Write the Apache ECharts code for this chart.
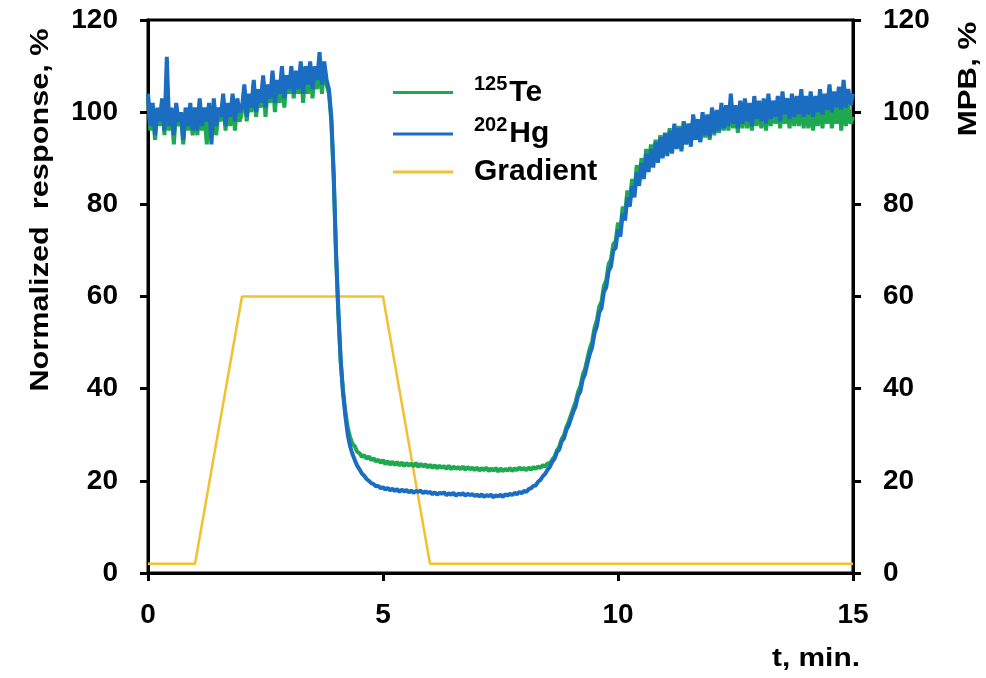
<!DOCTYPE html>
<html>
<head>
<meta charset="utf-8">
<script src="https://cdn.jsdelivr.net/npm/echarts@6/dist/echarts.min.js"></script>
<style>
  html, body { margin: 0; padding: 0; background: #fff; }
  #main { width: 986px; height: 678px; }
</style>
</head>
<body>
<div id="main"></div>
<script>
// sample spacing of the detector traces, min
var T_STEP = 0.05;

// 125Te, one row per minute (t = 0 ... 15)
var teValues = [
  103,96,101,94,100,97,102,95,104,96,100,93,101,97,99,93,100,96,101,95,
  100,95,102,96,100,93,101,97,102,95,100,98,103,96,101,97,103,96,102,98,
  100,105,98,103,100,106,99,104,101,107,99,105,102,108,100,106,102,109,101,107,
  104,109,103,108,104,110,102,109,104,110,103,109,105,111,104,110,106,104,98,86,
  69,56,46,39.5,35,31.5,29.5,28.0,27.5,26.3,26.0,25.2,25.6,24.8,25.3,24.5,24.9,24.2,24.6,23.9,
  24.5,23.6,24.3,23.5,24.2,23.4,24.1,23.3,24.0,23.2,23.9,23.3,23.8,23.1,23.9,23.0,23.7,23.1,23.6,22.9,
  23.5,22.8,23.4,22.7,23.3,22.8,23.2,22.6,23.3,22.5,23.1,22.6,23.0,22.5,23.1,22.4,23.0,22.5,22.9,22.3,
  22.9,22.2,22.8,22.3,22.9,22.1,22.7,22.2,22.8,22.0,22.7,22.1,22.6,22.2,22.8,22.1,22.7,22.3,22.9,22.4,
  22.8,22.3,22.9,22.4,23.0,22.6,23.1,22.8,23.4,23.1,23.8,23.7,24.6,25.2,26.6,27.4,29.0,29.9,31.6,32.8,
  34.3,35.8,37.2,39.3,40.5,43.0,44.3,46.6,48.8,50.2,53.2,54.8,57.8,58.9,62.3,63.5,67.0,68.0,71.4,72.0,
  76.0,74.5,79.5,78.0,83.0,80.5,85.5,83.0,88.5,85.0,90.0,86.5,92.0,88.0,93.0,89.0,94.0,89.5,95.0,90.5,
  95.5,91.5,96.5,91.5,97.0,92.5,97.0,92.0,98.0,93.5,97.5,93.0,99.0,94.0,98.0,93.5,99.5,94.5,99.0,94.0,
  100.0,95.0,100.0,95.5,101.0,96.0,100.5,96.0,102.5,96.5,100.5,95.5,101.5,96.5,102.0,96.5,101.0,96.0,102.0,97.0,
  101.0,96.5,101.5,96.0,102.5,97.0,101.0,97.5,102.0,96.5,102.5,97.5,101.5,96.5,102.0,97.0,101.5,97.0,102.5,96.5,
  101.5,96.5,102.0,96.0,101.0,97.0,102.5,96.5,101.5,97.5,102.5,96.5,101.0,97.5,102.5,96.0,103.0,97.0,101.5,97.5,
  99.0
];

// 202Hg, one row per minute (t = 0 ... 15)
var hgValues = [
  104,97,102,95,101,98,103,96,112,97,101,95,102,98,100,94,101,97,102,96,
  101,96,103,97,101,98,102,93,103,97,101,99,104,97,102,99,104,98,103,100,
  101,106,99,104,101,107,100,105,102,108,101,106,103,109,102,107,104,110,103,108,
  105,110,104,109,105,111,104,110,106,111,105,110,107,113,106,111,107,105,99,87,
  70,57,46,39,34,30,27.5,25.8,24.5,23.3,22.5,21.6,21.1,20.4,20.0,19.5,19.3,18.8,18.9,18.4,
  18.6,18.1,18.5,17.9,18.3,17.8,18.2,17.6,18.1,17.7,18.0,17.5,17.9,17.4,17.8,17.6,17.9,17.3,17.7,17.4,
  17.6,17.1,17.5,17.0,17.4,17.2,17.5,16.9,17.3,17.0,17.4,16.8,17.2,17.0,17.3,16.8,17.2,16.9,17.1,16.7,
  17.0,16.6,17.1,16.5,16.9,16.7,17.0,16.4,16.9,16.6,17.0,16.5,17.1,16.8,17.2,16.9,17.4,17.1,17.6,17.3,
  17.8,17.6,18.2,18.4,18.9,19.0,19.8,20.2,21.0,21.5,22.4,23.0,24.1,24.8,26.2,26.8,28.5,29.2,31.0,32.0,
  33.5,35.0,36.2,38.5,39.4,42.0,43.2,45.5,47.5,49.0,52.0,53.5,56.5,57.5,61.0,62.0,65.5,66.5,70.0,70.5,
  74.5,73.0,78.0,76.5,81.5,79.5,84.0,81.5,87.0,84.0,89.0,85.5,91.0,87.0,92.0,88.0,93.5,89.0,94.5,90.0,
  95.5,90.5,96.0,91.0,97.5,92.0,96.5,91.5,98.0,93.0,97.5,92.5,99.5,94.0,98.5,93.5,100.0,95.0,99.5,94.5,
  101.0,95.5,100.5,96.0,102.0,96.5,101.5,97.0,104.0,97.5,101.5,96.5,102.5,97.5,103.0,98.0,102.0,97.0,103.5,98.5,
  102.5,98.0,103.0,97.5,104.0,98.5,102.5,99.0,103.5,98.0,104.5,99.5,103.0,98.5,104.0,99.0,103.5,99.5,105.0,99.0,
  103.5,99.5,104.5,99.0,103.5,100.0,105.0,99.5,104.0,100.5,106.0,100.0,104.5,101.0,105.5,100.5,107.0,101.0,105.0,101.5,
  104.0
];

// mobile phase gradient (MPB, %)
var gradTimes = [0, 1, 2, 5, 6, 15];
var gradValues = [2, 2, 60, 60, 2, 2];

var xTicks = [0, 5, 10, 15];
var yTicks = [0, 20, 40, 60, 80, 100, 120];

var chart = echarts.init(document.getElementById('main'));

function toPairs(values) {
  return values.map(function (v, i) {
    return [+(i * T_STEP).toFixed(2), v];
  });
}

var fontFam = '"Liberation Sans", Arial, sans-serif';
var tickFont = { color: '#000', fontSize: 28, fontWeight: 'bold', fontFamily: fontFam };

var yAxisBase = {
  type: 'value',
  min: yTicks[0],
  max: yTicks[yTicks.length - 1],
  interval: 20,
  splitLine: { show: false },
  axisLine: { show: true, lineStyle: { color: '#000', width: 3 } },
  axisTick: { show: true, length: 8, lineStyle: { color: '#000', width: 3 } }
};

// axis titles (text is wider than tall in the source, hence the stretch)
function titleText(x, y, text, rot, stretch) {
  return {
    type: 'text',
    x: x, y: y,
    rotation: rot,
    scaleX: stretch,
    style: {
      text: text,
      fill: '#000',
      font: 'bold 26px ' + fontFam,
      align: 'center',
      verticalAlign: 'middle'
    }
  };
}

var option = {
  animation: false,
  backgroundColor: '#fff',
  grid: {
    left: 148,
    right: 133,
    top: 20,
    bottom: 105,
    show: true,
    borderColor: '#000',
    borderWidth: 3
  },
  legend: {
    orient: 'vertical',
    left: 388,
    top: 69,
    itemWidth: 60,
    itemHeight: 3,
    itemGap: 8,
    icon: 'rect',
    data: ['Te', 'Hg', 'Gradient'],
    formatter: function (name) {
      if (name === 'Te') return '{sup|125}{b|Te}';
      if (name === 'Hg') return '{sup|202}{b|Hg}';
      return '{b|Gradient}';
    },
    textStyle: {
      padding: [0, 0, 0, 16],
      rich: {
        sup: { fontSize: 20, fontWeight: 'bold', color: '#000', fontFamily: fontFam, verticalAlign: 'top', padding: [0, 2, 10, 0] },
        b: { fontSize: 30, fontWeight: 'bold', color: '#000', fontFamily: fontFam, height: 37 }
      }
    }
  },
  xAxis: {
    type: 'value',
    min: xTicks[0],
    max: xTicks[xTicks.length - 1],
    interval: 5,
    splitLine: { show: false },
    axisLine: { show: true, onZero: false, lineStyle: { color: '#000', width: 3 } },
    axisTick: { show: true, length: 8, lineStyle: { color: '#000', width: 3 } },
    axisLabel: Object.assign({ margin: 28 }, tickFont)
  },
  yAxis: [
    Object.assign({}, yAxisBase, {
      position: 'left',
      axisLabel: Object.assign({ margin: 30 }, tickFont)
    }),
    Object.assign({}, yAxisBase, {
      position: 'right',
      axisLabel: Object.assign({ margin: 30 }, tickFont)
    })
  ],
  graphic: [
    titleText(41, 210, 'Normalized  response, %', Math.PI / 2, 1.18),
    titleText(969, 79, 'MPB, %', Math.PI / 2, 1.2),
    {
      type: 'text',
      x: 860, y: 659,
      scaleX: 1.15,
      style: {
        text: 't, min.',
        fill: '#000',
        font: 'bold 26px ' + fontFam,
        align: 'right',
        verticalAlign: 'middle'
      }
    }
  ],
  series: [
    {
      name: 'Te',
      type: 'line',
      yAxisIndex: 0,
      showSymbol: false,
      color: '#1FA84F',
      lineStyle: { width: 4, color: '#1FA84F' },
      data: toPairs(teValues),
      z: 2
    },
    {
      name: 'Hg',
      type: 'line',
      yAxisIndex: 0,
      showSymbol: false,
      color: '#1B6DC1',
      lineStyle: { width: 4, color: '#1B6DC1' },
      data: toPairs(hgValues),
      z: 3
    },
    {
      name: 'Gradient',
      type: 'line',
      yAxisIndex: 1,
      showSymbol: false,
      color: '#F0C232',
      lineStyle: { width: 2.5, color: '#F0C232' },
      data: gradTimes.map(function (t, i) { return [t, gradValues[i]]; }),
      z: 1
    }
  ]
};

chart.setOption(option);
</script>
</body>
</html>
